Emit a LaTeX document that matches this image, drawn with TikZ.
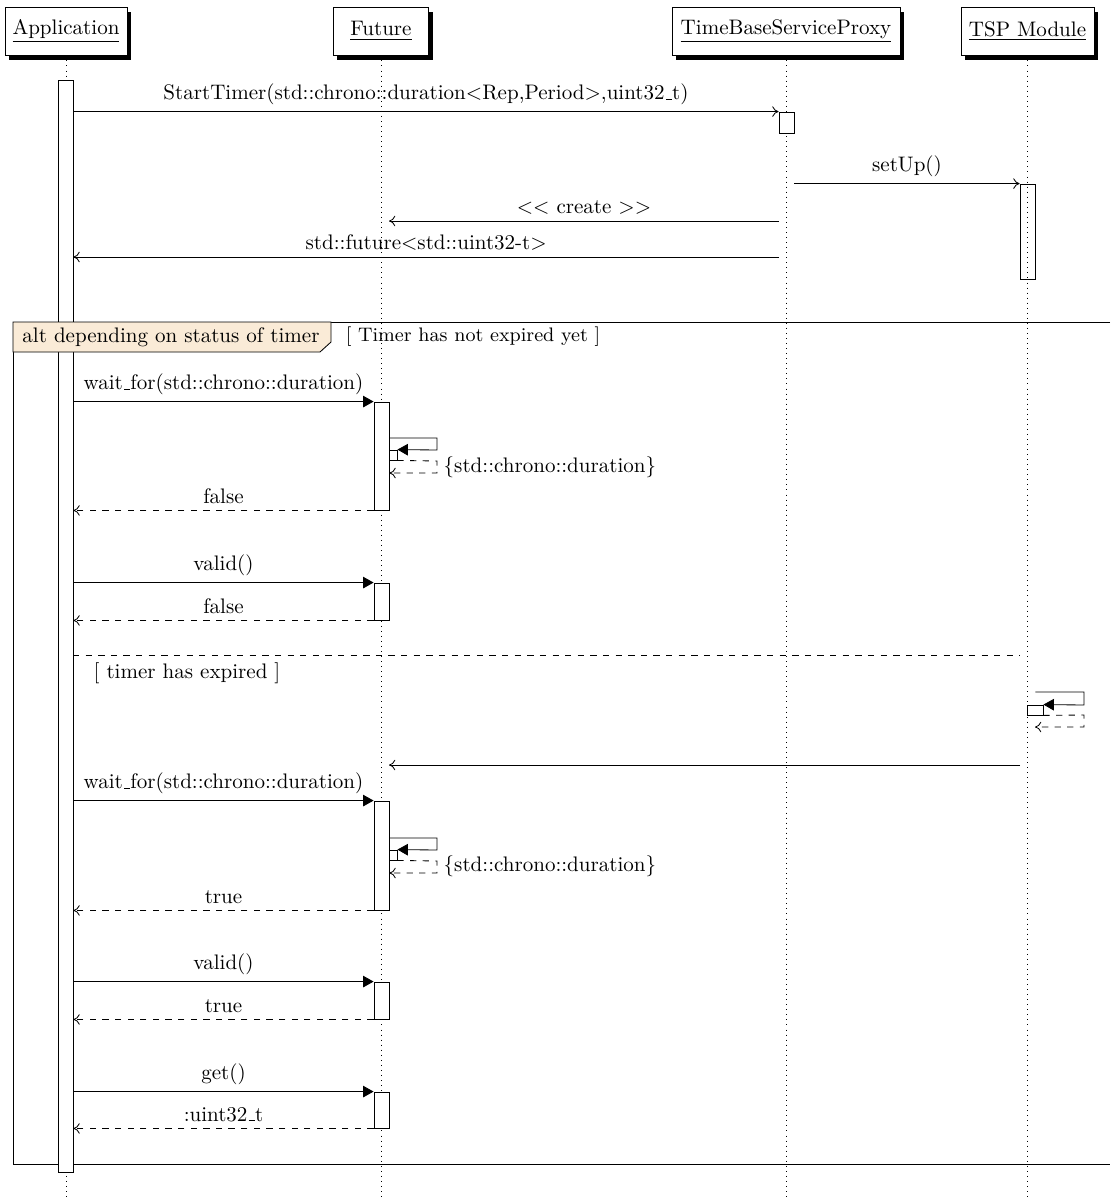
\documentclass[tikz,border=0pt]{standalone}
\usetikzlibrary{arrows.meta,fit,shadows}
\definecolor{framefill}{RGB}{250,235,215}
\newcommand\myus{\leavevmode\kern.06em\vbox{\hrule width.3em}}
\begin{document}
\begin{tikzpicture}[x=0.4755pt,y=-0.4755pt,
  hdr/.style={draw, fill=white, inner sep=0pt, line width=0.4pt,
    drop shadow={shadow xshift=1.9pt, shadow yshift=-2.2pt, fill=black, opacity=1}},
  life/.style={dotted, line width=0.4pt},
  act/.style={draw, fill=white, inner sep=0pt, line width=0.4pt},
  actnf/.style={draw, inner sep=0pt, line width=0.4pt},
  msg/.style={-{To[length=3pt,width=5pt]}, line width=0.4pt},
  call/.style={-{Triangle[length=5pt,width=5.5pt]}, line width=0.4pt},
  ret/.style={dashed, -{To[length=3pt,width=5pt]}, line width=0.4pt},
  lbl/.style={midway, above, inner sep=3pt},
  txt/.style={inner sep=0pt}]
\useasboundingbox (0,0) rectangle (1110,1199);
\coordinate (bot) at (0,1199);
% headers
\node[hdr, minimum width=58pt, minimum height=22.8pt] (app) at (66,31) {\underline{Application}};
\node[hdr, minimum width=45.2pt, minimum height=22.8pt] (fut) at (381,31) {\underline{Future}};
\node[hdr, minimum width=108.4pt, minimum height=22.8pt] (tbsp) at (786,31) {\underline{TimeBaseServiceProxy}};
\node[hdr, minimum width=63.2pt, minimum height=22.8pt] (tsp) at (1027.5,31) {\underline{TSP Module}};
% lifelines
\draw[life] (app.south) -- (app.south |- bot);
\draw[life] (fut.south) -- (fut.south |- bot);
\draw[life] (tbsp.south) -- (tbsp.south |- bot);
\draw[life] (tsp.south) -- (tsp.south |- bot);
% alt frame lines
\draw[line width=0.4pt] (1110,322) -- (13,322) -- (13,1164) -- (1110,1164);
\draw[dashed, line width=0.4pt] (73,655) coordinate (sepA) -- (1020,655) coordinate (sepB);
\node[txt] (g1) at (473,337) {\fontsize{9.3pt}{11pt}\selectfont [ Timer has not expired yet ]};
\node[txt] (g2) at (187,673) {[ timer has expired ]};
% activations
\node[act, fit={(58,80)(73,1172)}] (appact) {};
\node[act, fit={(779,112)(794,133)}] (tbspact) {};
\node[actnf, fit={(1020,184)(1035,279)}] (tspact) {};
\node[act, fit={(374,402)(389,510)}] (fa1) {};
\node[act, fit={(374,583)(389,620)}] (fa2) {};
\node[act, fit={(374,801)(389,910)}] (fa3) {};
\node[act, fit={(374,982)(389,1019)}] (fa4) {};
\node[act, fit={(374,1092)(389,1128)}] (fa5) {};
\node[act, fit={(389,450)(397,460)}] (fs1) {};
\node[act, fit={(389,850)(397,860)}] (fs3) {};
\node[act, fit={(1027,705)(1043,715)}] (tspself) {};
% alt label (over the activation bar)
\draw[line width=0.4pt, fill=framefill] (13,322) -- (331,322) -- (331,342) -- (320,352) -- (13,352) -- cycle;
\node[txt] (altlbl) at (171,337) {alt depending on status of timer};
% coordinates for free ends
\coordinate (crS) at (779,221);
\coordinate (crE) at (389,221);
\coordinate (fuS) at (779,257);
\coordinate (wkS) at (1020,765);
\coordinate (wkE) at (389,765);
% messages
\draw[msg] (appact.east |- tbspact.north) -- node[lbl]{StartTimer(std::chrono::duration$<$Rep,Period$>$,uint32\myus t)} (tbspact.north west);
\draw[msg] (tbspact.east |- tspact.north) -- node[lbl]{setUp()} (tspact.north west);
\draw[msg] (crS) -- node[lbl]{$<<$ create $>>$} (crE);
\draw[msg] (fuS) -- node[lbl]{std::future$<$std::uint32-t$>$} (appact.east |- fuS);
% first alternative
\draw[call] (appact.east |- fa1.north) -- node[lbl]{wait\myus for(std::chrono::duration)} (fa1.north west);
\draw[call] (fa1.east |- 0,438) -- (437,438) -- (437,450) -- (fs1.north east);
\draw[ret] (fs1.south east) -- (437,461) -- (437,473) -- (fa1.east |- 0,473);
\node[anchor=west, inner sep=3pt] (sl1) at (437,467) {\{std::chrono::duration\}};
\draw[ret] (fa1.south west) -- node[lbl]{false} (appact.east |- fa1.south);
\draw[call] (appact.east |- fa2.north) -- node[lbl]{valid()} (fa2.north west);
\draw[ret] (fa2.south west) -- node[lbl]{false} (appact.east |- fa2.south);
% second alternative
\draw[call] (tspact.south east |- 0,692) -- (1084,692) -- (1084,705) -- (tspself.north east);
\draw[ret] (tspself.south east) -- (1084,715) -- (1084,727) -- (1035,727);
\draw[msg] (wkS) -- (wkE);
\draw[call] (appact.east |- fa3.north) -- node[lbl]{wait\myus for(std::chrono::duration)} (fa3.north west);
\draw[call] (fa3.east |- 0,838) -- (437,838) -- (437,850) -- (fs3.north east);
\draw[ret] (fs3.south east) -- (437,861) -- (437,873) -- (fa3.east |- 0,873);
\node[anchor=west, inner sep=3pt] (sl3) at (437,866) {\{std::chrono::duration\}};
\draw[ret] (fa3.south west) -- node[lbl]{true} (appact.east |- fa3.south);
\draw[call] (appact.east |- fa4.north) -- node[lbl]{valid()} (fa4.north west);
\draw[ret] (fa4.south west) -- node[lbl]{true} (appact.east |- fa4.south);
\draw[call] (appact.east |- fa5.north) -- node[lbl]{get()} (fa5.north west);
\draw[ret] (fa5.south west) -- node[lbl]{:uint32\myus t} (appact.east |- fa5.south);
\end{tikzpicture}
\end{document}
